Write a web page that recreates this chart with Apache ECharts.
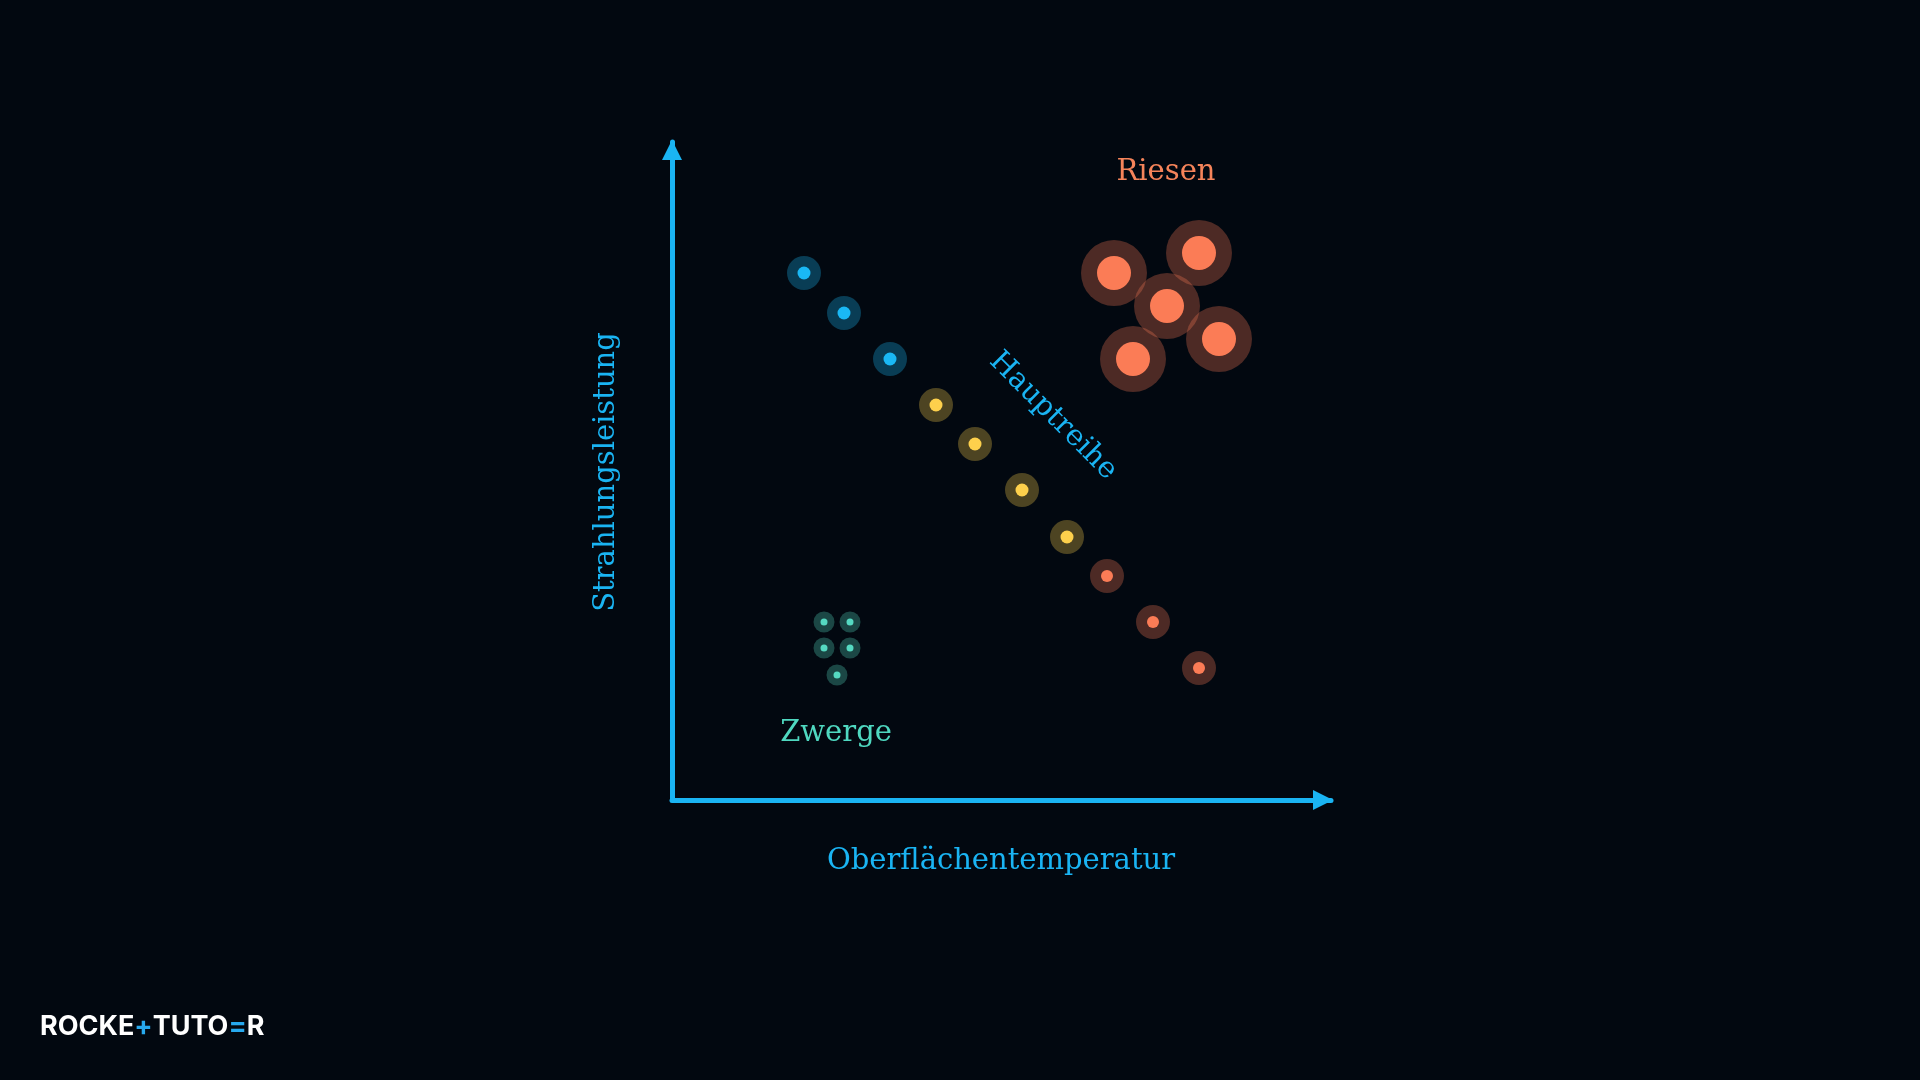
<!DOCTYPE html>
<html><head><meta charset="utf-8">
<script src="https://cdn.jsdelivr.net/npm/echarts@6/dist/echarts.min.js"></script>
<style>html,body{margin:0;background:#020810}#c{width:1920px;height:1080px}</style>
</head><body><div id="c"></div>
<script>
// star positions [temperature, luminosity] in plot units
var hotStars = [[132, 527], [172, 487], [218, 441]];
var sunStars = [[264, 395], [303, 356], [350, 310], [395, 263]];
var coolStars = [[435, 224], [481, 178], [527, 132]];
var giants = [[442, 527], [527, 547], [495, 494], [547, 461], [461, 441]];
var dwarfs = [[152, 178], [178, 178], [152, 152], [178, 152], [165, 125]];

var BLUE = '#1ab4f3';
var serif = 'DejaVu Serif';

function pair(name, data, color, outer, inner) {
	return [
		{ name: name, type: 'scatter', data: data, symbolSize: outer,
		  itemStyle: { color: color, opacity: 0.3 }, silent: true },
		{ name: name, type: 'scatter', data: data, symbolSize: inner,
		  itemStyle: { color: color, opacity: 1 }, silent: true }
	];
}

var axisLine = { lineStyle: { color: BLUE, width: 5 }, symbol: ['none', 'triangle'], symbolSize: [20, 20], symbolOffset: [0, -8] };

var chart = echarts.init(document.getElementById('c'));
chart.setOption({
	backgroundColor: '#020810',
	animation: false,
	grid: { left: 672, top: 142, width: 659, height: 658 },
	xAxis: {
		type: 'value', min: 0, max: 659,
		splitLine: { show: false }, axisTick: { show: false }, axisLabel: { show: false },
		axisLine: axisLine
	},
	yAxis: {
		type: 'value', min: 0, max: 658,
		splitLine: { show: false }, axisTick: { show: false }, axisLabel: { show: false },
		axisLine: axisLine
	},
	series: [].concat(
		pair('hot', hotStars, '#1ab8f5', 34, 13),
		pair('sun', sunStars, '#fdd04c', 34, 13),
		pair('cool', coolStars, '#fb7c56', 34, 12),
		pair('giants', giants, '#fb7c56', 66, 34),
		pair('dwarfs', dwarfs, '#55d9c1', 21, 7)
	),
	graphic: [
		{ type: 'text', x: 1166, y: 172, style: { text: 'Riesen', fill: '#f6845a', font: '29px "' + serif + '"', textAlign: 'center', textVerticalAlign: 'middle' } },
		{ type: 'text', x: 1053, y: 416, rotation: -Math.PI / 4, style: { text: 'Hauptreihe', fill: BLUE, font: '29px "' + serif + '"', textAlign: 'center', textVerticalAlign: 'middle' } },
		{ type: 'text', x: 836, y: 733, style: { text: 'Zwerge', fill: '#4fd8c0', font: '29px "' + serif + '"', textAlign: 'center', textVerticalAlign: 'middle' } },
		{ type: 'text', x: 1001, y: 861, style: { text: 'Oberflächentemperatur', fill: BLUE, font: '29px "' + serif + '"', textAlign: 'center', textVerticalAlign: 'middle' } },
		{ type: 'text', x: 606, y: 472, rotation: Math.PI / 2, style: { text: 'Strahlungsleistung', fill: BLUE, font: '29px "' + serif + '"', textAlign: 'center', textVerticalAlign: 'middle' } },
		{ type: 'text', x: 40, y: 1027, style: {
			text: '{w|ROCKE}{b|+}{w|TUTO}{b|=}{w|R}', textVerticalAlign: 'middle',
			rich: {
				w: { fill: '#ffffff', font: 'bold 27px Inter' },
				b: { fill: '#27a9ee', font: 'bold 27px Inter' }
			}
		} }
	]
});
</script></body></html>
